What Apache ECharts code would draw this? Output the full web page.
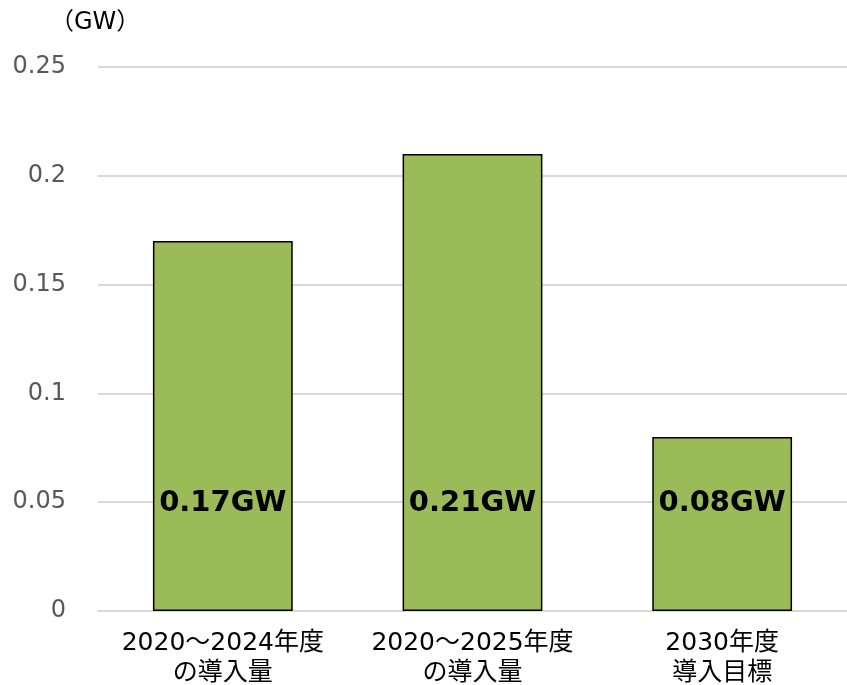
<!DOCTYPE html>
<html>
<head>
<meta charset="utf-8">
<script src="https://cdn.jsdelivr.net/npm/echarts@6/dist/echarts.min.js"></script>
<style>
  html, body { margin: 0; padding: 0; background: #fff; }
  #chart { width: 847px; height: 685px; }
</style>
</head>
<body>
<div id="chart"></div>
<script>
const categories = ['2020～2024年度\nの導入量', '2020～2025年度\nの導入量', '2030年度\n導入目標']
const values = [0.17, 0.21, 0.08]
const valueLabels = ['0.17GW', '0.21GW', '0.08GW']
const yTicks = [0, 0.05, 0.1, 0.15, 0.2, 0.25]

const font = '"DejaVu Sans", "Noto Sans CJK JP", sans-serif'

const chart = echarts.init(document.getElementById('chart'))
chart.setOption({
  animation: false,
  textStyle: { fontFamily: font },
  grid: { left: 98, right: 0, top: 67, bottom: 74, containLabel: false, outerBoundsMode: 'none' },
  graphic: [
    {
      type: 'text',
      left: 50,
      top: 11,
      style: { text: '（GW）', font: '24px ' + font, fill: '#000' }
    }
  ],
  xAxis: {
    type: 'category',
    data: categories,
    axisLine: { show: true, lineStyle: { color: '#d9d9d9', width: 2 } },
    axisTick: { show: false },
    axisLabel: { color: '#000', fontSize: 25, lineHeight: 30, margin: 17, interval: 0, fontFamily: font }
  },
  yAxis: {
    type: 'value',
    min: yTicks[0],
    max: yTicks[yTicks.length - 1],
    interval: 0.05,
    axisLine: { show: false },
    axisTick: { show: false },
    axisLabel: { color: '#595959', fontSize: 24, margin: 32, fontFamily: font },
    splitLine: { lineStyle: { color: '#d9d9d9', width: 2 } }
  },
  series: [
    {
      type: 'bar',
      data: values,
      barWidth: '56%',
      itemStyle: { color: '#9bbb59', borderColor: '#000', borderWidth: 1.5 },
      label: {
        show: true,
        position: 'insideBottom',
        distance: 93,
        color: '#000',
        fontSize: 29,
        fontWeight: 'bold',
        fontFamily: 'Verdana, "DejaVu Sans", sans-serif',
        formatter: p => valueLabels[p.dataIndex]
      }
    }
  ]
})
</script>
</body>
</html>
